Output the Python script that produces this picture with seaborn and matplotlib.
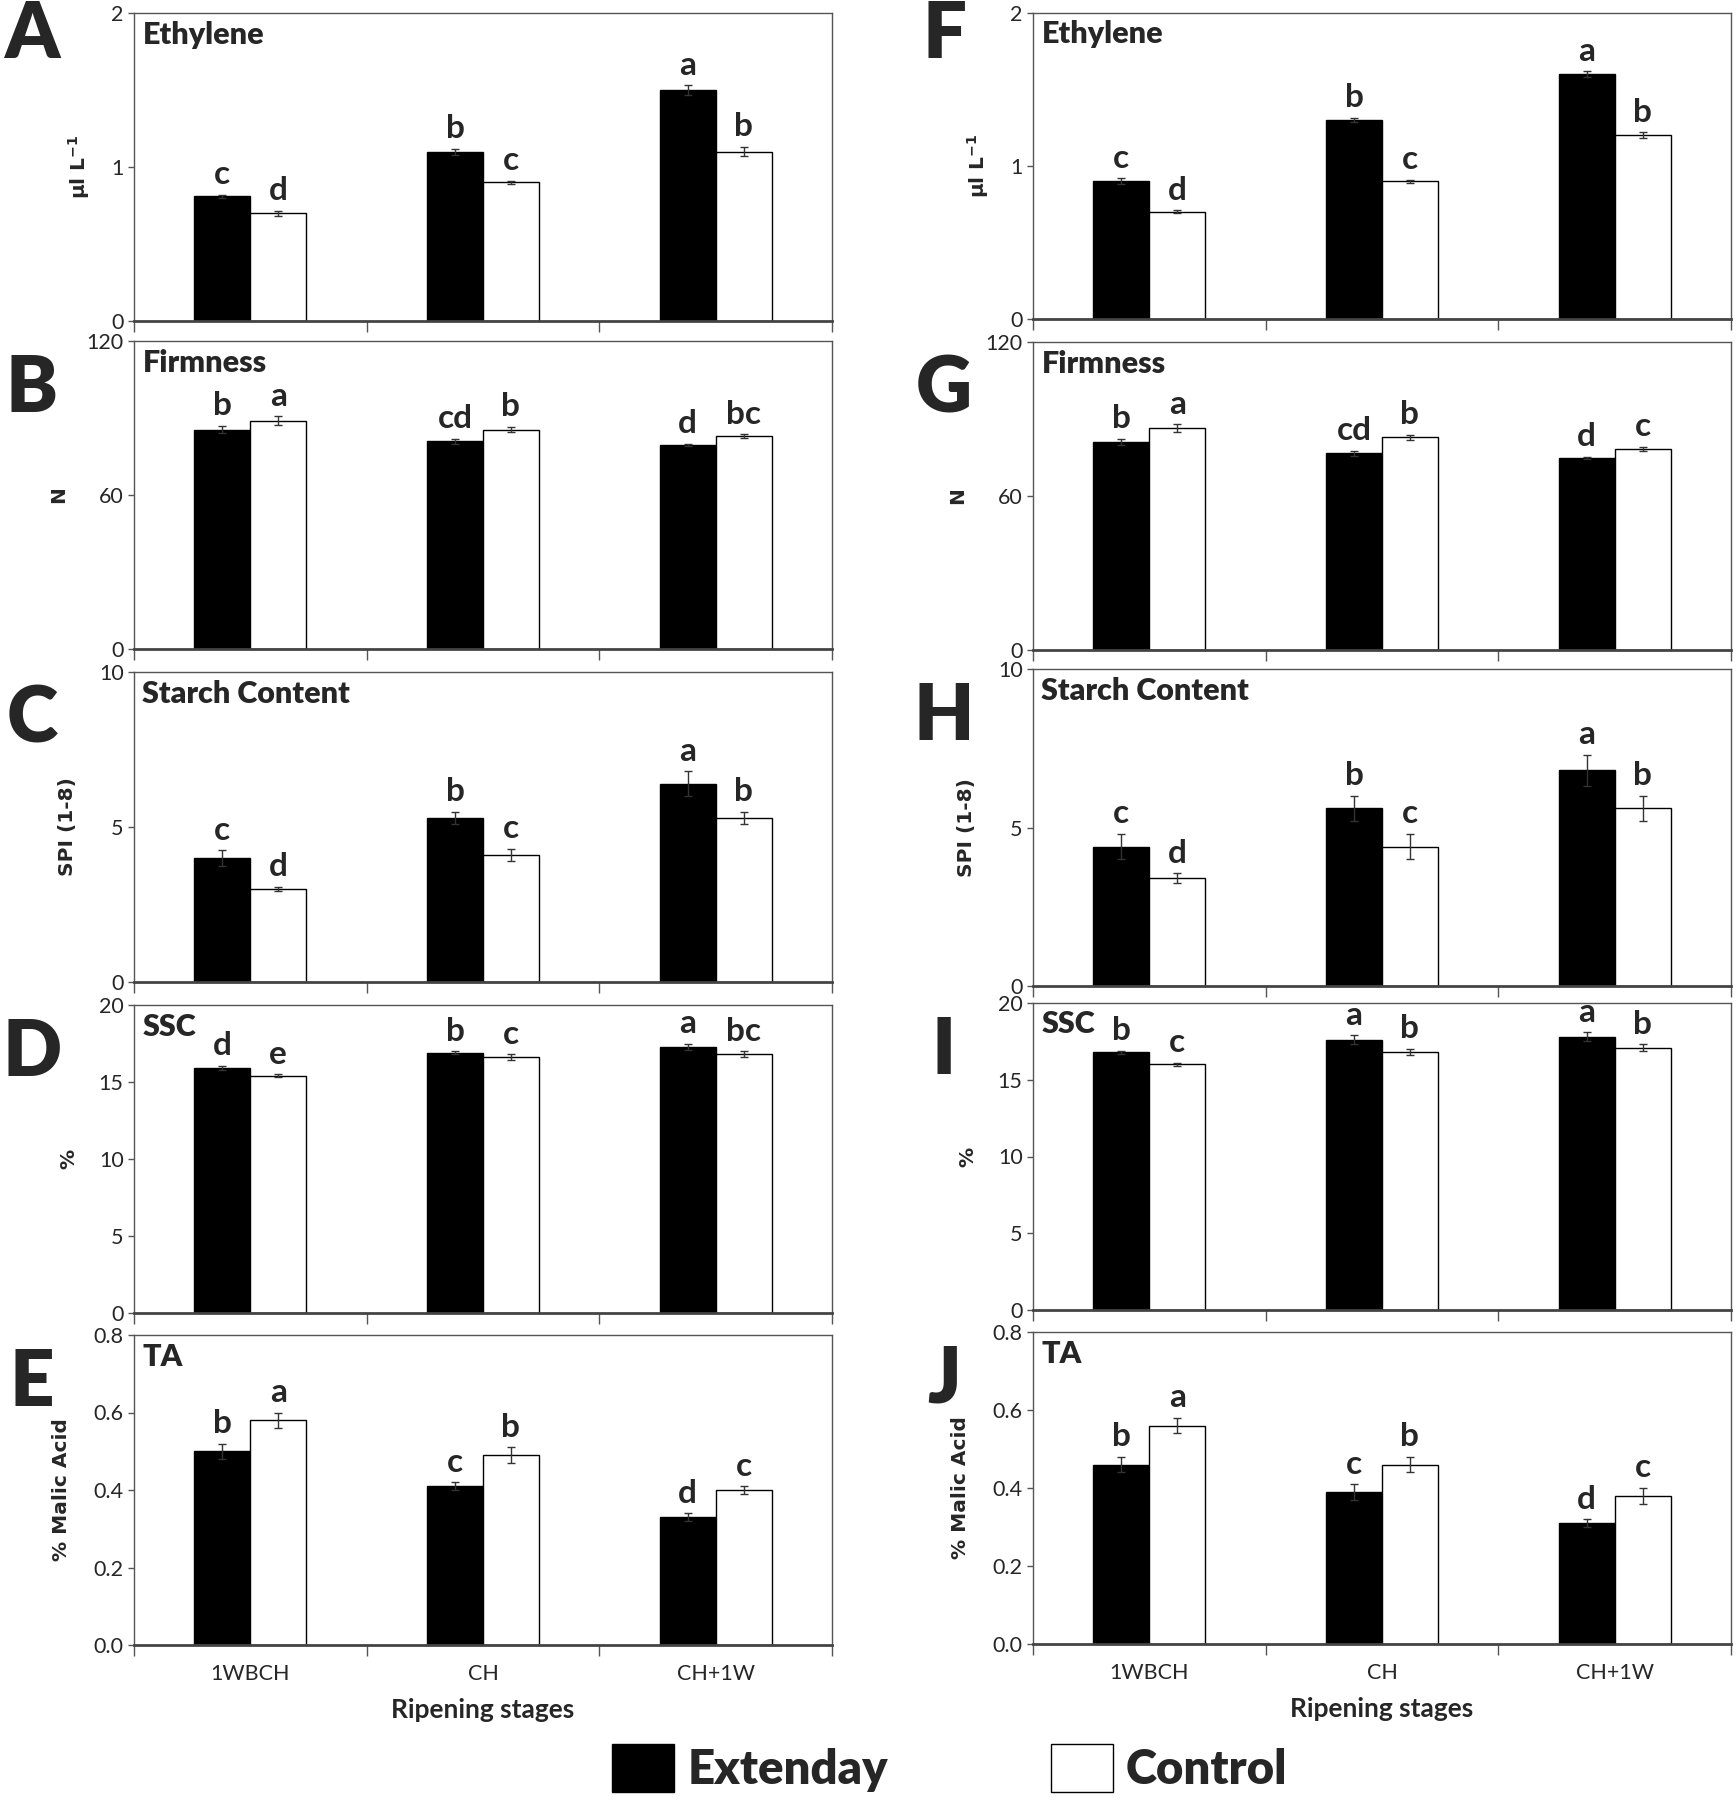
import numpy as np
import pandas as pd
import seaborn as sns
import matplotlib.pyplot as plt
from matplotlib.patches import Patch

stages = ['1WBCH', 'CH', 'CH+1W']
treatments = ['Extenday', 'Control']

# ---- left column (A-E) ----
eth_a_ext = [0.81, 1.10, 1.50]
eth_a_ctl = [0.70, 0.90, 1.10]
eth_a_ext_err = [0.01, 0.02, 0.03]
eth_a_ctl_err = [0.015, 0.01, 0.03]
eth_a_ext_let = ['c', 'b', 'a']
eth_a_ctl_let = ['d', 'c', 'b']

firm_b_ext = [85.5, 81.0, 79.5]
firm_b_ctl = [89.0, 85.5, 83.0]
firm_b_ext_err = [1.5, 1.0, 0.5]
firm_b_ctl_err = [1.7, 1.0, 0.7]
firm_b_ext_let = ['b', 'cd', 'd']
firm_b_ctl_let = ['a', 'b', 'bc']

sta_c_ext = [4.0, 5.3, 6.4]
sta_c_ctl = [3.0, 4.1, 5.3]
sta_c_ext_err = [0.25, 0.2, 0.4]
sta_c_ctl_err = [0.08, 0.2, 0.2]
sta_c_ext_let = ['c', 'b', 'a']
sta_c_ctl_let = ['d', 'c', 'b']

ssc_d_ext = [15.9, 16.9, 17.3]
ssc_d_ctl = [15.4, 16.6, 16.8]
ssc_d_ext_err = [0.15, 0.1, 0.2]
ssc_d_ctl_err = [0.1, 0.2, 0.2]
ssc_d_ext_let = ['d', 'b', 'a']
ssc_d_ctl_let = ['e', 'c', 'bc']

ta_e_ext = [0.50, 0.41, 0.33]
ta_e_ctl = [0.58, 0.49, 0.40]
ta_e_ext_err = [0.02, 0.01, 0.01]
ta_e_ctl_err = [0.02, 0.02, 0.01]
ta_e_ext_let = ['b', 'c', 'd']
ta_e_ctl_let = ['a', 'b', 'c']

# ---- right column (F-J) ----
eth_f_ext = [0.90, 1.30, 1.60]
eth_f_ctl = [0.70, 0.90, 1.20]
eth_f_ext_err = [0.02, 0.015, 0.02]
eth_f_ctl_err = [0.01, 0.01, 0.02]
eth_f_ext_let = ['c', 'b', 'a']
eth_f_ctl_let = ['d', 'c', 'b']

firm_g_ext = [81.0, 76.6, 74.8]
firm_g_ctl = [86.4, 82.8, 78.4]
firm_g_ext_err = [1.2, 1.0, 0.5]
firm_g_ctl_err = [1.5, 1.0, 0.8]
firm_g_ext_let = ['b', 'cd', 'd']
firm_g_ctl_let = ['a', 'b', 'c']

sta_h_ext = [4.4, 5.6, 6.8]
sta_h_ctl = [3.4, 4.4, 5.6]
sta_h_ext_err = [0.4, 0.4, 0.5]
sta_h_ctl_err = [0.15, 0.4, 0.4]
sta_h_ext_let = ['c', 'b', 'a']
sta_h_ctl_let = ['d', 'c', 'b']

ssc_i_ext = [16.8, 17.6, 17.8]
ssc_i_ctl = [16.0, 16.8, 17.1]
ssc_i_ext_err = [0.1, 0.3, 0.3]
ssc_i_ctl_err = [0.1, 0.2, 0.2]
ssc_i_ext_let = ['b', 'a', 'a']
ssc_i_ctl_let = ['c', 'b', 'b']

ta_j_ext = [0.46, 0.39, 0.31]
ta_j_ctl = [0.56, 0.46, 0.38]
ta_j_ext_err = [0.02, 0.02, 0.01]
ta_j_ctl_err = [0.02, 0.02, 0.02]
ta_j_ext_let = ['b', 'c', 'd']
ta_j_ctl_let = ['a', 'b', 'c']

titles = ['Ethylene', 'Firmness', 'Starch Content', 'SSC', 'TA']
ylabels = ['\u00b5l L$^{\\mathbf{-1}}$', 'N', 'SPI (1-8)', '%', '% Malic Acid']
ylims = [(0, 2), (0, 120), (0, 10), (0, 20), (0, 0.8)]
yticks = [[0, 1, 2], [0, 60, 120], [0, 5, 10], [0, 5, 10, 15, 20],
          [0, 0.2, 0.4, 0.6, 0.8]]
letters_left = ['A', 'B', 'C', 'D', 'E']
letters_right = ['F', 'G', 'H', 'I', 'J']

left = [
    (eth_a_ext, eth_a_ctl, eth_a_ext_err, eth_a_ctl_err, eth_a_ext_let, eth_a_ctl_let),
    (firm_b_ext, firm_b_ctl, firm_b_ext_err, firm_b_ctl_err, firm_b_ext_let, firm_b_ctl_let),
    (sta_c_ext, sta_c_ctl, sta_c_ext_err, sta_c_ctl_err, sta_c_ext_let, sta_c_ctl_let),
    (ssc_d_ext, ssc_d_ctl, ssc_d_ext_err, ssc_d_ctl_err, ssc_d_ext_let, ssc_d_ctl_let),
    (ta_e_ext, ta_e_ctl, ta_e_ext_err, ta_e_ctl_err, ta_e_ext_let, ta_e_ctl_let),
]
right = [
    (eth_f_ext, eth_f_ctl, eth_f_ext_err, eth_f_ctl_err, eth_f_ext_let, eth_f_ctl_let),
    (firm_g_ext, firm_g_ctl, firm_g_ext_err, firm_g_ctl_err, firm_g_ext_let, firm_g_ctl_let),
    (sta_h_ext, sta_h_ctl, sta_h_ext_err, sta_h_ctl_err, sta_h_ext_let, sta_h_ctl_let),
    (ssc_i_ext, ssc_i_ctl, ssc_i_ext_err, ssc_i_ctl_err, ssc_i_ext_let, ssc_i_ctl_let),
    (ta_j_ext, ta_j_ctl, ta_j_ext_err, ta_j_ctl_err, ta_j_ext_let, ta_j_ctl_let),
]

sns.set_style('white')
plt.rcParams['font.family'] = ['Lato', 'DejaVu Sans']
plt.rcParams['mathtext.fontset'] = 'custom'
plt.rcParams['mathtext.bf'] = 'DejaVu Sans:bold'

W, H = 1736, 1800
fig = plt.figure(figsize=(W / 100, H / 100), dpi=100)

# axes boxes in pixels: (top, bottom)
rows_left = [(13, 321), (341, 649), (672, 982), (1005, 1313), (1335, 1645)]
rows_right = [(13, 319), (342, 650), (669, 986), (1003, 1310), (1332, 1644)]
cols = [(134, 832), (1033, 1731)]
ylab_x = [-0.06, -0.095, -0.082, -0.08, -0.09]
label_font = ['DejaVu Sans']


def draw_panel(ax, panel, i):
    ext, ctl, ext_err, ctl_err, ext_let, ctl_let = panel
    df = pd.DataFrame({
        'stage': stages * 2,
        'treatment': ['Extenday'] * 3 + ['Control'] * 3,
        'value': list(ext) + list(ctl),
    })
    sns.barplot(data=df, x='stage', y='value', hue='treatment', order=stages,
                hue_order=treatments, palette={'Extenday': 'black', 'Control': 'white'},
                edgecolor='black', linewidth=1, width=0.48, errorbar=None,
                legend=False, ax=ax)
    for cont, errs, labs in zip(ax.containers, [ext_err, ctl_err], [ext_let, ctl_let]):
        for bar, e, lab in zip(cont, errs, labs):
            cx = bar.get_x() + bar.get_width() / 2
            top = bar.get_height()
            ax.errorbar(cx, top, yerr=e, color='#333333', capsize=3,
                        elinewidth=1, capthick=1)
            ax.annotate(lab, (cx, top + e), xytext=(0, 4), textcoords='offset points',
                        ha='center', va='bottom', fontsize=24, fontweight='bold')
    ax.set_xlim(-0.5, 2.5)
    ax.set_ylim(*ylims[i])
    ax.set_yticks(yticks[i])
    if i == 4:
        ax.set_yticklabels([f'{t:.1f}' for t in yticks[i]])
    ax.set_xticks([-0.5, 0.5, 1.5, 2.5])
    ax.set_xticklabels([])
    ax.set_xticks([0, 1, 2], minor=True)
    if i == 4:
        ax.set_xticklabels(stages, minor=True, fontsize=15.5)
        ax.set_xlabel('Ripening stages', fontsize=19, fontweight='bold', labelpad=10)
    else:
        ax.set_xticklabels([], minor=True)
        ax.set_xlabel('')
    ax.tick_params(axis='x', which='major', direction='out', length=8, width=1,
                   color='#555555', bottom=True)
    ax.tick_params(axis='x', which='minor', length=0, pad=14)
    ax.tick_params(axis='y', direction='out', length=4, width=1, color='#555555',
                   labelsize=15.5, left=True)
    ax.set_ylabel(ylabels[i], fontsize=14.5, fontweight='bold', family=label_font)
    ax.yaxis.set_label_coords(ylab_x[i], 0.5)
    for side in ['top', 'right', 'left']:
        ax.spines[side].set_color('#555555')
        ax.spines[side].set_linewidth(1)
    ax.spines['bottom'].set_color('#444444')
    ax.spines['bottom'].set_linewidth(2)
    ax.text(0.012, 0.93, titles[i], transform=ax.transAxes, ha='left', va='center',
            fontsize=22, fontweight='heavy')


for c, (rows, panels, lets) in enumerate([(rows_left, left, letters_left),
                                          (rows_right, right, letters_right)]):
    x0, x1 = cols[c]
    for i, ((top, bot), panel) in enumerate(zip(rows, panels)):
        ax = fig.add_axes([x0 / W, 1 - bot / H, (x1 - x0) / W, (bot - top) / H])
        draw_panel(ax, panel, i)
        ly = top + (22 if i == 0 else 48)
        lx = 32 if c == 0 else 944
        fig.text(lx / W, 1 - ly / H, lets[i], ha='center', va='center',
                 fontsize=56, fontweight='heavy')

handles = [Patch(facecolor='black', edgecolor='black', label='Extenday'),
           Patch(facecolor='white', edgecolor='black', label='Control')]
fig.legend(handles=handles, loc='center', bbox_to_anchor=(0.547, 1 - 1768 / H),
           ncol=2, frameon=False, prop={'size': 34, 'weight': 'heavy'},
           handlelength=1.33, handleheight=1.18, handletextpad=0.27,
           columnspacing=3.45)

fig.savefig('out.png', dpi=100)
